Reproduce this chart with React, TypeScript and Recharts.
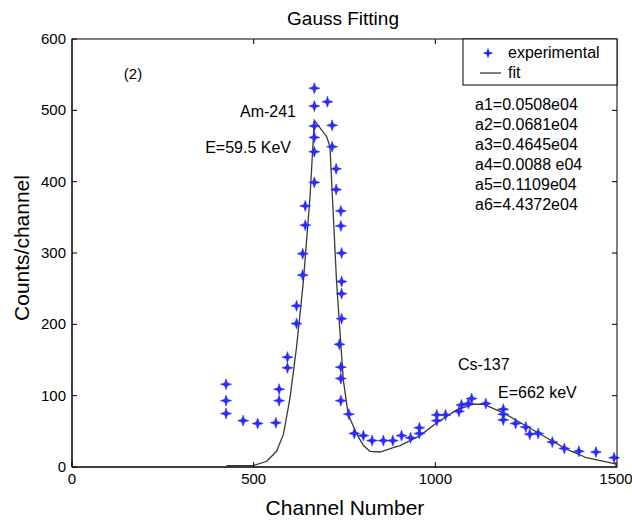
import React from "react";
import { ComposedChart, Line, Scatter, XAxis, YAxis } from "recharts";

const expChannel = [
  424, 424, 424, 471, 511, 561, 570, 570, 593, 593, 618, 618, 635, 635, 642, 642,
  667, 667, 667, 667, 667, 667, 703, 716, 716, 727, 727, 740, 740, 742, 742, 742,
  742, 736, 740, 740, 740, 762, 777, 802, 826, 857, 883, 907, 932, 956, 956, 1004,
  1004, 1028, 1065, 1072, 1091, 1100, 1139, 1187, 1187, 1187, 1221, 1249, 1260, 1283,
  1322, 1355, 1395, 1442, 1492,
];
const expCounts = [
  116, 93, 75, 65, 61, 62, 93, 109, 139, 154, 201, 226, 269, 299, 339, 366,
  399, 442, 462, 478, 506, 531, 512, 479, 449, 418, 389, 359, 338, 300, 260, 243,
  208, 172, 140, 124, 93, 74, 47, 44, 37, 37, 37, 44, 41, 47, 55, 65,
  73, 73, 78, 87, 89, 96, 89, 81, 74, 66, 61, 56, 46, 47,
  35, 26, 22, 21, 13,
];

const fitChannel = [
  425, 499, 536, 563, 582, 600, 618, 637, 655, 667, 701, 710, 719, 728, 738, 747,
  760, 784, 802, 820, 848, 884, 903, 958, 1004, 1059, 1105, 1132, 1187, 1242, 1306,
  1361, 1416, 1499,
];
const fitCounts = [
  2, 2, 8, 22, 46, 97, 168, 261, 378, 486, 463, 449, 355, 261, 186, 121,
  74, 46, 30, 22, 21, 27, 30, 44, 62, 80, 88, 88, 76, 60, 41,
  25, 13, 4,
];

const xTicks = [0, 500, 1000, 1500];
const yTicks = [0, 100, 200, 300, 400, 500, 600];
const X_MAX = 1500;
const Y_MAX = 600;

const params = [
  "a1=0.0508e04",
  "a2=0.0681e04",
  "a3=0.4645e04",
  "a4=0.0088 e04",
  "a5=0.1109e04",
  "a6=4.4372e04",
];

const expData = expChannel.map((x, i) => ({ x, y: expCounts[i] }));
const fitData = fitChannel.map((x, i) => ({ x, y: fitCounts[i] }));

const FONT = "'Liberation Sans', Arial, sans-serif";
const BLUE = "#2a2aff";

// plot box (matches chart margins / axis sizes below)
const W = 632;
const H = 520;
const M = { top: 39, right: 15, bottom: 0, left: 0 };
const Y_AXIS_W = 72;
const X_AXIS_H = 53;
const PL = M.left + Y_AXIS_W;
const PR = W - M.right;
const PT = M.top;
const PB = H - M.bottom - X_AXIS_H;

const starPath = (cx: number, cy: number, r: number) => {
  const k = r * 0.25;
  return `M${cx},${cy - r} L${cx + k},${cy - k} L${cx + r},${cy} L${cx + k},${cy + k} L${cx},${cy + r} L${cx - k},${cy + k} L${cx - r},${cy} L${cx - k},${cy - k} Z`;
};

const Star = (props: any) => {
  const { cx, cy } = props;
  if (cx == null || cy == null) return null;
  return <path d={starPath(cx, cy, 5.5)} fill={BLUE} stroke={BLUE} strokeWidth={0.6} />;
};

const BottomTick = (props: any) => {
  const { x, y, payload } = props;
  return (
    <g>
      <line x1={x} x2={x} y1={y} y2={y - 5} stroke="#000" />
      <text x={x} y={y + 17} textAnchor="middle" fontSize={15} fontFamily={FONT} fill="#000">
        {payload.value}
      </text>
    </g>
  );
};

const LeftTick = (props: any) => {
  const { x, y, payload } = props;
  return (
    <g>
      <line x1={x} x2={x + 5} y1={y} y2={y} stroke="#000" />
      <text x={x - 6} y={y + 5} textAnchor="end" fontSize={15} fontFamily={FONT} fill="#000">
        {payload.value}
      </text>
    </g>
  );
};

export default function App() {
  const tx = (v: number) => PL + (v / X_MAX) * (PR - PL);
  const ty = (v: number) => PB - (v / Y_MAX) * (PB - PT);
  const topTicks = xTicks.slice(1, -1);
  const rightTicks = yTicks.slice(1, -1);

  return (
    <div style={{ position: "absolute", left: 0, top: 0, width: W, height: H, background: "#fff" }}>
      <ComposedChart width={W} height={H} margin={M}>
        <XAxis
          type="number"
          dataKey="x"
          domain={[0, X_MAX]}
          ticks={xTicks}
          height={X_AXIS_H}
          tickSize={0}
          tickMargin={0}
          tickLine={false}
          axisLine={{ stroke: "#000" }}
          tick={<BottomTick />}
        />
        <YAxis
          type="number"
          dataKey="y"
          domain={[0, Y_MAX]}
          ticks={yTicks}
          width={Y_AXIS_W}
          tickSize={0}
          tickMargin={0}
          tickLine={false}
          axisLine={{ stroke: "#000" }}
          tick={<LeftTick />}
        />
        <Line
          data={fitData}
          dataKey="y"
          type="linear"
          stroke="#3a3a3a"
          strokeWidth={1.3}
          dot={false}
          isAnimationActive={false}
        />
        <Scatter data={expData} dataKey="y" shape={<Star />} isAnimationActive={false} />
      </ComposedChart>

      <svg
        width={W}
        height={H}
        style={{ position: "absolute", left: 0, top: 0, pointerEvents: "none" }}
        fontFamily={FONT}
      >
        <rect x={PL} y={PT} width={PR - PL} height={PB - PT} fill="none" stroke="#000" strokeWidth={1} />
        <path
          d={
            topTicks.map((t) => `M${tx(t)},${PT} V${PT + 5}`).join(" ") +
            " " +
            rightTicks.map((t) => `M${PR},${ty(t)} H${PR - 5}`).join(" ")
          }
          fill="none"
          stroke="#000"
          strokeWidth={1}
        />

        <text x={343} y={25} textAnchor="middle" fontSize={19} fill="#000">Gauss Fitting</text>
        <text x={133} y={79} textAnchor="middle" fontSize={15} fill="#000">(2)</text>
        <text x={296} y={117} textAnchor="end" fontSize={16} fill="#000">Am-241</text>
        <text x={291} y={153} textAnchor="end" fontSize={16} fill="#000">E=59.5 KeV</text>
        <text x={458} y={370} fontSize={16} fill="#000">Cs-137</text>
        <text x={498} y={398} fontSize={16} fill="#000">E=662 keV</text>
        {params.map((p, i) => (
          <text key={p} x={475} y={110 + i * 20} fontSize={16} fill="#000">{p}</text>
        ))}

        <rect x={463} y={39} width={154} height={46} fill="#fff" stroke="#000" />
        <path d={starPath(488, 53, 5.5)} fill={BLUE} />
        <text x={508} y={58} fontSize={16} fill="#000">experimental</text>
        <line x1={480} x2={501} y1={73} y2={73} stroke="#3a3a3a" strokeWidth={1.3} />
        <text x={508} y={78} fontSize={16} fill="#000">fit</text>

        <text
          x={0}
          y={0}
          textAnchor="middle"
          fontSize={21}
          fill="#000"
          transform="translate(29 248) rotate(-90)"
        >
          Counts/channel
        </text>
        <text x={345} y={515} textAnchor="middle" fontSize={21} fill="#000">Channel Number</text>
      </svg>
    </div>
  );
}
